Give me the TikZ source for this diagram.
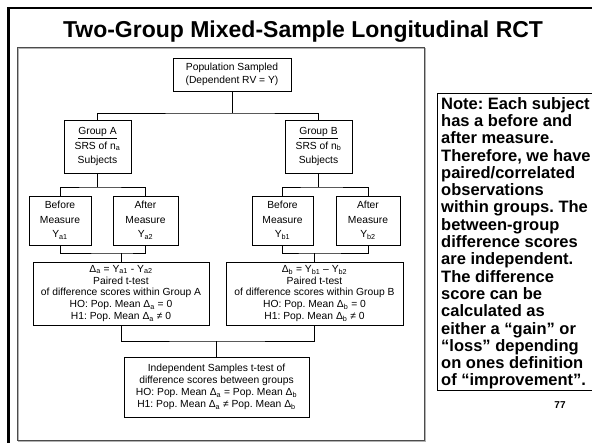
\documentclass[tikz,border=0pt]{standalone}
\usepackage{fontspec}
\setmainfont{Liberation Sans}
\frenchspacing
\begin{document}
\begin{tikzpicture}[x=1pt,y=-1pt,
  boxnode/.style={draw=black, line width=0.6pt, fill=white, align=center, inner sep=0pt,
    font=\fontsize{10.3}{11.8}\selectfont},
  tallbox/.style={boxnode, font=\fontsize{10.3}{14.5}\selectfont},
  conn/.style={draw=black, line width=0.6pt}]
\useasboundingbox (0,0) rectangle (592,442);
\clip (0,0) rectangle (592,442);
% slide frame
\draw[line width=2.4pt, black] (8.5,450) -- (8.5,8) -- (600,8);
% panel
\draw[gray!60, line width=1.2pt] (18.5,48.5) rectangle (425.5,441.5);
\draw[black!70, line width=0.9pt] (17,47) rectangle (424,440);
% title
\node (title) at (303,32) {\fontsize{23}{27}\selectfont\bfseries Two-Group Mixed-Sample Longitudinal RCT};
% nodes
\node[boxnode, font=\fontsize{10.3}{13}\selectfont, minimum width=118pt, minimum height=33pt] (pop) at (232,74.5) {Population Sampled\\(Dependent RV = Y)};
\node[tallbox, minimum width=67pt, minimum height=53pt] (ga) at (97.5,146.5) {\underline{Group A}\\SRS of n\textsubscript{a}\\Subjects};
\node[tallbox, minimum width=67pt, minimum height=53pt] (gb) at (318.5,146.5) {\underline{Group B}\\SRS of n\textsubscript{b}\\Subjects};
\node[tallbox, minimum width=62pt, minimum height=49pt] (ba) at (60,220.5) {Before\\Measure\\Y\textsubscript{a1}};
\node[tallbox, minimum width=65pt, minimum height=49pt] (aa) at (145.5,220.5) {After\\Measure\\Y\textsubscript{a2}};
\node[tallbox, minimum width=61pt, minimum height=49pt] (bb) at (282.5,220.5) {Before\\Measure\\Y\textsubscript{b1}};
\node[tallbox, minimum width=64pt, minimum height=49pt] (ab) at (368,220.5) {After\\Measure\\Y\textsubscript{b2}};
\node[boxnode, minimum width=176pt, minimum height=63pt] (da) at (121,293.5) {Δ\textsubscript{a} = Y\textsubscript{a1} - Y\textsubscript{a2}\\Paired t-test\\of difference scores within Group A\\HO: Pop. Mean Δ\textsubscript{a} = 0\\H1: Pop. Mean Δ\textsubscript{a} ≠ 0};
\node[boxnode, minimum width=177pt, minimum height=63pt] (db) at (314.5,293.5) {Δ\textsubscript{b} = Y\textsubscript{b1} – Y\textsubscript{b2}\\Paired t-test\\of difference scores within Group B\\HO: Pop. Mean Δ\textsubscript{b} = 0\\H1: Pop. Mean Δ\textsubscript{b} ≠ 0};
\node[boxnode, font=\fontsize{10.3}{12}\selectfont, minimum width=185pt, minimum height=60pt] (ind) at (216.5,387) {Independent Samples t-test of\\difference scores between groups\\HO: Pop. Mean Δ\textsubscript{a} = Pop. Mean Δ\textsubscript{b}\\H1: Pop. Mean Δ\textsubscript{a} ≠ Pop. Mean Δ\textsubscript{b}};
% junctions
\coordinate (j1) at (232,113);
\coordinate (jA) at (97.5,187);
\coordinate (jB) at (318.5,187);
\coordinate (kA) at (121,253);
\coordinate (kB) at (314.5,253);
\coordinate (m) at (216.5,341);
% connectors
\draw[conn] (pop.south) -- (j1);
\draw[conn] (ga.north) |- (j1) -| (gb.north);
\draw[conn] (ga.south) -- (jA);
\draw[conn] (ba.north) |- (jA) -| (aa.north);
\draw[conn] (gb.south) -- (jB);
\draw[conn] (bb.north) |- (jB) -| (ab.north);
\draw[conn] (ba.south) |- (kA) -| (aa.south);
\draw[conn] (kA) -- (da.north);
\draw[conn] (bb.south) |- (kB) -| (ab.south);
\draw[conn] (kB) -- (db.north);
\draw[conn] (da.south) |- (m) -| (db.south);
\draw[conn] (m) -- (ind.north);
% note
\draw[black, line width=1pt] (437,93) rectangle (620,390);
\node[anchor=north west, align=left, inner sep=0pt, font=\fontsize{16.5}{17.3}\selectfont\bfseries] (note) at (441,97) {Note: Each subject\\has a before and\\after measure.\\Therefore, we have\\paired/correlated\\observations\\within groups. The\\between-group\\difference scores\\are independent.\\The difference\\score can be\\calculated as\\either a “gain” or\\“loss” depending\\on ones definition\\of “improvement”.};
\node[font=\fontsize{10}{12}\selectfont\bfseries] (pg) at (560,405) {77};
\end{tikzpicture}
\end{document}
